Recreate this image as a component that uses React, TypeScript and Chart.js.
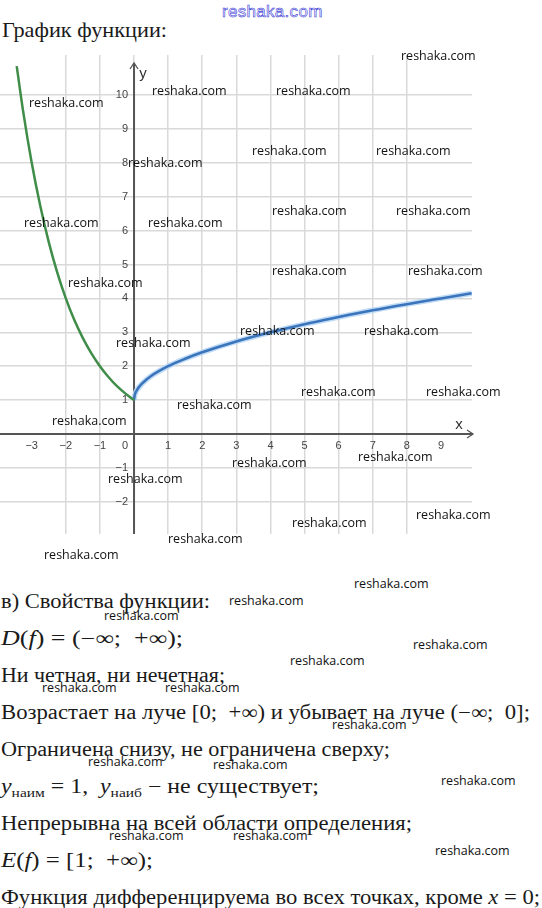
import React, { useEffect, useLayoutEffect, useRef } from "react";
import { Chart, registerables } from "chart.js";

Chart.register(...registerables);

// ---- data ----
const greenX = [-3.44, -3.25, -3, -2.75, -2.5, -2.25, -2, -1.75, -1.5, -1.25, -1, -0.75, -0.5, -0.25, 0];
const greenY = [10.85, 9.51, 8, 6.73, 5.66, 4.76, 4, 3.36, 2.83, 2.38, 2, 1.68, 1.41, 1.19, 1];
const blueX = [0, 0.02, 0.1, 0.25, 0.5, 1, 1.5, 2, 3, 4, 5, 6, 7, 8, 9, 9.9];
const blueY = [1, 1.14, 1.32, 1.5, 1.71, 2, 2.22, 2.41, 2.73, 3, 3.24, 3.45, 3.65, 3.83, 4, 4.15];

const xTickValues = [-3, -2, -1, 0, 1, 2, 3, 4, 5, 6, 7, 8, 9];
const xTickLabels = ["−3", "−2", "−1", "0", "1", "2", "3", "4", "5", "6", "7", "8", "9"];
const yTickValues = [-2, -1, 1, 2, 3, 4, 5, 6, 7, 8, 9, 10];
const yTickLabels = ["−2", "−1", "1", "2", "3", "4", "5", "6", "7", "8", "9", "10"];

const X_MIN = -3.93;
const X_MAX = 9.91;
const Y_MIN = -2.95;
const Y_MAX = 11.18;

const WATERMARK = "reshaka.com";
// watermark positions: [left, centerY]
const watermarkPos: [number, number][] = [
  [401, 56], [29, 103], [152, 91], [276, 91], [128, 163], [252, 151], [376, 151],
  [24, 223], [148, 223], [272, 211], [396, 211], [68, 283], [272, 271], [408, 271],
  [116, 343], [240, 331], [364, 331], [301, 392], [426, 392], [52, 421], [177, 405],
  [358, 457], [232, 463], [108, 479], [416, 515], [292, 523], [168, 539], [44, 555],
  [354, 584], [229, 601], [104, 616], [413, 645], [290, 661], [42, 688], [165, 688],
  [332, 725], [88, 762], [213, 765], [441, 781], [109, 836], [233, 836], [435, 851],
];

const SERIF = '"Liberation Serif", "Times New Roman", serif';
const SANS = '"Liberation Sans", Arial, sans-serif';

const axesPlugin = {
  id: "axesArrows",
  beforeDatasetsDraw(chart: any) {
    const { ctx, chartArea } = chart;
    const xs = chart.scales.x;
    const ys = chart.scales.y;
    const x0 = xs.getPixelForValue(0);
    const y0 = ys.getPixelForValue(0);
    ctx.save();
    ctx.strokeStyle = "#555";
    ctx.lineWidth = 2;
    ctx.beginPath();
    ctx.moveTo(chartArea.left, y0);
    ctx.lineTo(chartArea.right + 1, y0);
    ctx.stroke();
    ctx.lineWidth = 1.3;
    ctx.beginPath();
    ctx.moveTo(chartArea.right - 5, y0 - 4);
    ctx.lineTo(chartArea.right + 1, y0);
    ctx.lineTo(chartArea.right - 5, y0 + 4);
    ctx.stroke();
    const yTop = chartArea.top + 8;
    ctx.lineWidth = 2;
    ctx.beginPath();
    ctx.moveTo(x0, chartArea.bottom);
    ctx.lineTo(x0, yTop);
    ctx.stroke();
    ctx.lineWidth = 1.3;
    ctx.beginPath();
    ctx.moveTo(x0 - 4, yTop + 6);
    ctx.lineTo(x0, yTop);
    ctx.lineTo(x0 + 4, yTop + 6);
    ctx.stroke();

    ctx.fillStyle = "#444";
    ctx.font = `11px ${SANS}`;
    ctx.textAlign = "center";
    ctx.textBaseline = "middle";
    xTickValues.forEach((v, i) => {
      const px = v === 0 ? x0 - 9 : xs.getPixelForValue(v);
      ctx.fillText(xTickLabels[i], px, y0 + 12);
    });
    ctx.textAlign = "right";
    yTickValues.forEach((v, i) => {
      ctx.fillText(yTickLabels[i], x0 - 6, ys.getPixelForValue(v));
    });
    ctx.fillStyle = "#333";
    ctx.font = `15px ${SANS}`;
    ctx.textAlign = "center";
    ctx.fillText("x", chartArea.right - 13, y0 - 9);
    ctx.fillText("y", x0 + 9, chartArea.top + 19);
    ctx.restore();
  },
};

function FitLine(props: { top: number; left: number; width: number; size: number; children: React.ReactNode }) {
  const ref = useRef<HTMLDivElement>(null);
  useLayoutEffect(() => {
    const el = ref.current;
    if (!el) return;
    const fit = () => {
      el.style.transform = "none";
      const w = el.getBoundingClientRect().width;
      if (w > 0) el.style.transform = `scaleX(${props.width / w})`;
    };
    fit();
    (document as any).fonts?.ready?.then(fit);
  }, [props.width]);
  return (
    <div
      ref={ref}
      style={{
        position: "absolute",
        left: props.left,
        top: props.top,
        display: "inline-block",
        whiteSpace: "nowrap",
        fontFamily: SERIF,
        fontSize: props.size,
        lineHeight: `${props.size}px`,
        color: "#1a1a1a",
        transformOrigin: "0 0",
      }}
    >
      {props.children}
    </div>
  );
}

const I = (p: { children: React.ReactNode }) => <span style={{ fontStyle: "italic" }}>{p.children}</span>;
const Sub = (p: { children: React.ReactNode }) => (
  <span style={{ fontSize: 13, position: "relative", top: 4 }}>{p.children}</span>
);

const textLines: { baseline: number; width: number; content: React.ReactNode }[] = [
  { baseline: 608, width: 209, content: <>в) Свойства функции:</> },
  { baseline: 645, width: 182, content: <><I>D</I>(<I>f</I>) = (−∞;&nbsp; +∞);</> },
  { baseline: 682, width: 224, content: <>Ни четная, ни нечетная;</> },
  { baseline: 719, width: 529, content: <>Возрастает на луче [0;&nbsp; +∞) и убывает на луче (−∞;&nbsp; 0];</> },
  { baseline: 756, width: 389, content: <>Ограничена снизу, не ограничена сверху;</> },
  { baseline: 793, width: 318, content: <><I>y</I><Sub>наим</Sub> = 1,&nbsp;&nbsp;<I>y</I><Sub>наиб</Sub> − не существует;</> },
  { baseline: 830, width: 411, content: <>Непрерывна на всей области определения;</> },
  { baseline: 867, width: 152, content: <><I>E</I>(<I>f</I>) = [1;&nbsp; +∞);</> },
  { baseline: 904, width: 539, content: <>Функция дифференцируема во всех точках, кроме <I>x</I> = 0;</> },
];

function ChartCanvas() {
  const ref = useRef<HTMLCanvasElement>(null);
  useEffect(() => {
    if (!ref.current) return;
    const chart = new Chart(ref.current, {
      type: "line",
      data: {
        datasets: [
          {
            data: greenX.map((x, i) => ({ x, y: greenY[i] })),
            borderColor: "#3f8d48",
            borderWidth: 2.5,
            pointRadius: 0,
            cubicInterpolationMode: "monotone",
            fill: false,
            order: 1,
          },
          {
            data: blueX.map((x, i) => ({ x, y: blueY[i] })),
            borderColor: "#3a74bb",
            borderWidth: 2.5,
            pointRadius: 0,
            cubicInterpolationMode: "monotone",
            fill: false,
            order: 2,
          },
          {
            data: blueX.map((x, i) => ({ x, y: blueY[i] })),
            borderColor: "rgba(185,215,245,0.9)",
            borderWidth: 5.5,
            pointRadius: 0,
            cubicInterpolationMode: "monotone",
            fill: false,
            order: 3,
          },
        ],
      },
      options: {
        animation: false,
        responsive: false,
        maintainAspectRatio: false,
        layout: { padding: { left: 0, right: 18, top: 10, bottom: 11 } },
        plugins: { legend: { display: false }, tooltip: { enabled: false } },
        events: [],
        scales: {
          x: {
            type: "linear",
            min: X_MIN,
            max: X_MAX,
            ticks: { display: false, stepSize: 1 },
            grid: { color: "#d9d9d9", lineWidth: 1.5, drawTicks: false },
            border: { display: false },
            afterBuildTicks: (s: any) => {
              s.ticks = s.ticks.filter((t: any) => Number.isInteger(t.value));
            },
          },
          y: {
            type: "linear",
            min: Y_MIN,
            max: Y_MAX,
            ticks: { display: false, stepSize: 1 },
            grid: { color: "#d9d9d9", lineWidth: 1.5, drawTicks: false },
            border: { display: false },
            afterBuildTicks: (s: any) => {
              s.ticks = s.ticks.filter((t: any) => Number.isInteger(t.value));
            },
          },
        },
      } as any,
      plugins: [axesPlugin],
    });
    return () => chart.destroy();
  }, []);
  return (
    <canvas
      ref={ref}
      width={490}
      height={500}
      style={{ position: "absolute", left: 0, top: 45, width: 490, height: 500 }}
    />
  );
}

export default function App() {
  return (
    <div
      style={{
        position: "absolute",
        left: 0,
        top: 0,
        width: 542,
        height: 908,
        overflow: "hidden",
        background: "#fff",
      }}
    >
      <FitLine top={20} left={2} width={165} size={21}>График функции:</FitLine>
      <ChartCanvas />
      {textLines.map((l, i) => (
        <FitLine key={i} top={l.baseline - 17} left={1} width={l.width} size={20}>
          {l.content}
        </FitLine>
      ))}
      <div
        style={{
          position: "absolute",
          left: 222,
          top: 2,
          fontFamily: SANS,
          fontSize: 17,
          lineHeight: "20px",
          color: "#fff",
          WebkitTextStroke: "0.6px #3a3ad6",
          letterSpacing: 0.3,
        }}
      >
        {WATERMARK}
      </div>
      {watermarkPos.map(([l, cy], i) => (
        <div
          key={i}
          style={{
            position: "absolute",
            left: l,
            top: cy - 8,
            fontFamily: '"Open Sans", "Noto Sans", sans-serif',
            fontSize: 12.5,
            lineHeight: "15px",
            color: "#111",
            whiteSpace: "nowrap",
          }}
        >
          {WATERMARK}
        </div>
      ))}
    </div>
  );
}
